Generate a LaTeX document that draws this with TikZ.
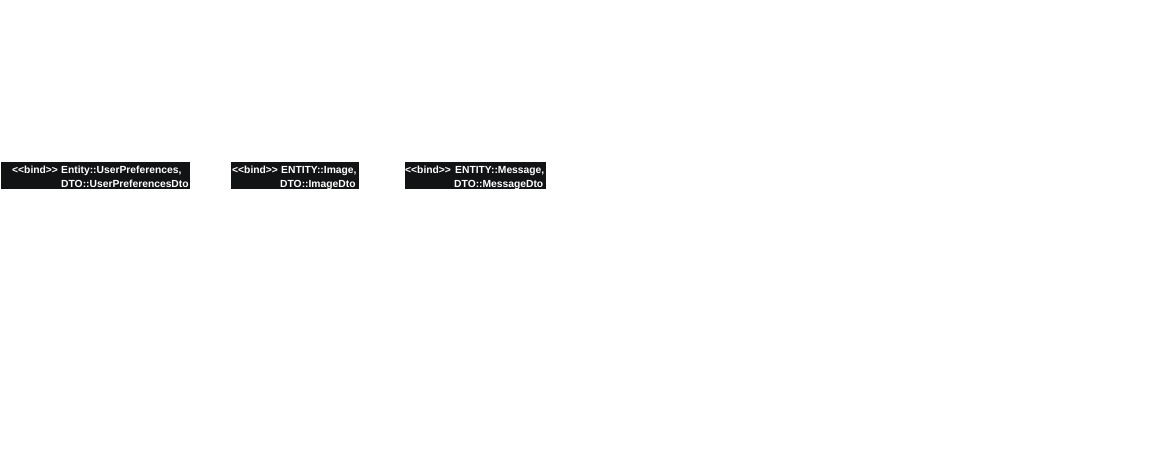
\documentclass[tikz,border=0pt]{standalone}
\usepackage{fontspec}
\setmainfont{Liberation Sans}
\definecolor{binddark}{RGB}{17,19,21}
\tikzset{
  bindbox/.style={rectangle, fill=binddark, inner sep=0pt, anchor=north west},
  bindtext/.style={text=white, inner sep=0pt, anchor=base west, font=\bfseries\fontsize{10.3}{12}\selectfont},
}
\begin{document}
\begin{tikzpicture}[x=1pt,y=1pt]
\fill[white] (0,0) rectangle (1150,-461);
\useasboundingbox (0,0) rectangle (1150,-461);

\node (boxA) [bindbox, minimum width=189pt, minimum height=27pt] at (1,-162) {};
\node (tagA) [bindtext] at (12,-173.5) {<{}<bind>{}>};
\node (entA) [bindtext] at (61,-173.5) {Entity::UserPreferences,};
\node (dtoA) [bindtext] at (61,-187.5) {DTO::UserPreferencesDto};

\node (boxB) [bindbox, minimum width=128pt, minimum height=27pt] at (231,-162) {};
\node (tagB) [bindtext] at (232,-173.5) {<{}<bind>{}>};
\node (entB) [bindtext] at (281,-173.5) {ENTITY::Image,};
\node (dtoB) [bindtext] at (280,-187.5) {DTO::ImageDto};

\node (boxC) [bindbox, minimum width=141pt, minimum height=27pt] at (405,-162) {};
\node (tagC) [bindtext] at (405,-173.5) {<{}<bind>{}>};
\node (entC) [bindtext] at (455,-173.5) {ENTITY::Message,};
\node (dtoC) [bindtext] at (454,-187.5) {DTO::MessageDto};
\end{tikzpicture}
\end{document}
